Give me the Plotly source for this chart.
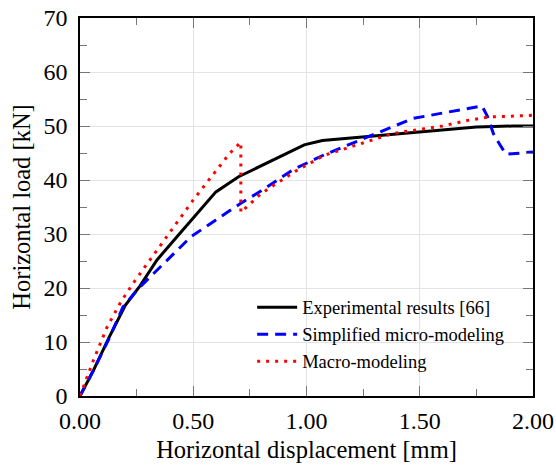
import plotly.graph_objects as go

# Experimental results [66]
exp_x = [0.0, 0.06, 0.13, 0.20, 0.265, 0.34, 0.43, 0.53, 0.60, 0.70, 0.80, 0.90, 0.99, 1.07, 1.20, 1.38, 1.55, 1.75, 1.91, 2.0]
exp_y = [0.0, 4.8, 11.0, 16.8, 20.4, 25.2, 29.6, 34.4, 37.8, 40.6, 42.6, 44.6, 46.5, 47.3, 47.8, 48.4, 49.1, 49.8, 50.0, 50.0]

# Simplified micro-modeling
mic_x = [0.0, 0.06, 0.13, 0.19, 0.26, 0.34, 0.49, 0.60, 0.71, 0.80, 0.94, 1.08, 1.27, 1.47, 1.68, 1.775, 1.80, 1.825, 1.85, 1.88, 1.95, 2.0]
mic_y = [0.0, 4.8, 10.8, 16.5, 20.0, 23.3, 29.5, 32.6, 35.7, 38.0, 41.9, 44.7, 48.0, 51.4, 53.0, 53.7, 51.7, 48.6, 46.8, 44.8, 45.0, 45.2]

# Macro-modeling
mac_x = [0.0, 0.015, 0.06, 0.12, 0.18, 0.235, 0.35, 0.50, 0.66, 0.71, 0.71, 0.80, 0.95, 1.08, 1.38, 1.60, 1.72, 1.81, 1.90, 2.0]
mac_y = [0.0, 1.7, 6.7, 12.8, 17.4, 20.9, 27.6, 36.3, 44.9, 47.0, 34.0, 37.5, 41.6, 44.6, 48.6, 50.0, 51.1, 51.7, 51.8, 52.0]

x_ticks = [0.0, 0.5, 1.0, 1.5, 2.0]
x_tick_labels = ["0.00", "0.50", "1.00", "1.50", "2.00"]
y_ticks = [0, 10, 20, 30, 40, 50, 60, 70]

SERIF = "Liberation Serif, Times New Roman, serif"

fig = go.Figure()
fig.add_trace(go.Scatter(x=exp_x, y=exp_y, mode="lines", name="Experimental results [66]",
                         line=dict(color="black", width=3)))
fig.add_trace(go.Scatter(x=mic_x, y=mic_y, mode="lines", name="Simplified micro-modeling",
                         line=dict(color="blue", width=3, dash="11px,7px")))
fig.add_trace(go.Scatter(x=mac_x, y=mac_y, mode="lines", name="Macro-modeling",
                         line=dict(color="red", width=3, dash="3px,6px")))

axis_common = dict(
    showline=True, linecolor="black", linewidth=1.5, mirror="ticks",
    ticks="inside", ticklen=10, tickcolor="#777777", tickwidth=1,
    showgrid=True, gridcolor="#e3e3e3", gridwidth=1, zeroline=False,
    tickfont=dict(family=SERIF, size=24, color="black"),
    automargin=False,
)

fig.update_xaxes(range=[0, 2.0], tickvals=x_ticks, ticktext=x_tick_labels,
                 title=dict(text="Horizontal displacement [mm]", font=dict(family=SERIF, size=24.5, color="black"), standoff=8),
                 minor=dict(ticks="inside", ticklen=7, tickcolor="#777777", dtick=0.25, showgrid=False),
                 ticklabelstandoff=2,
                 **axis_common)
fig.update_yaxes(range=[0, 70], tickvals=y_ticks,
                 title=dict(text="Horizontal load [kN]", font=dict(family=SERIF, size=24.5, color="black"), standoff=6),
                 minor=dict(ticks="inside", ticklen=7, tickcolor="#777777", dtick=5, showgrid=False),
                 ticklabelstandoff=6,
                 **axis_common)

fig.update_layout(
    width=556, height=468,
    margin=dict(l=80, r=23, t=18, b=72),
    plot_bgcolor="white", paper_bgcolor="white",
    showlegend=True,
    legend=dict(x=0.38, y=0.284, xanchor="left", yanchor="top",
                bgcolor="rgba(255,255,255,0)", borderwidth=0,
                font=dict(family=SERIF, size=18.5, color="black"),
                itemwidth=40, tracegroupgap=0),
)

fig.write_html("out.html")
